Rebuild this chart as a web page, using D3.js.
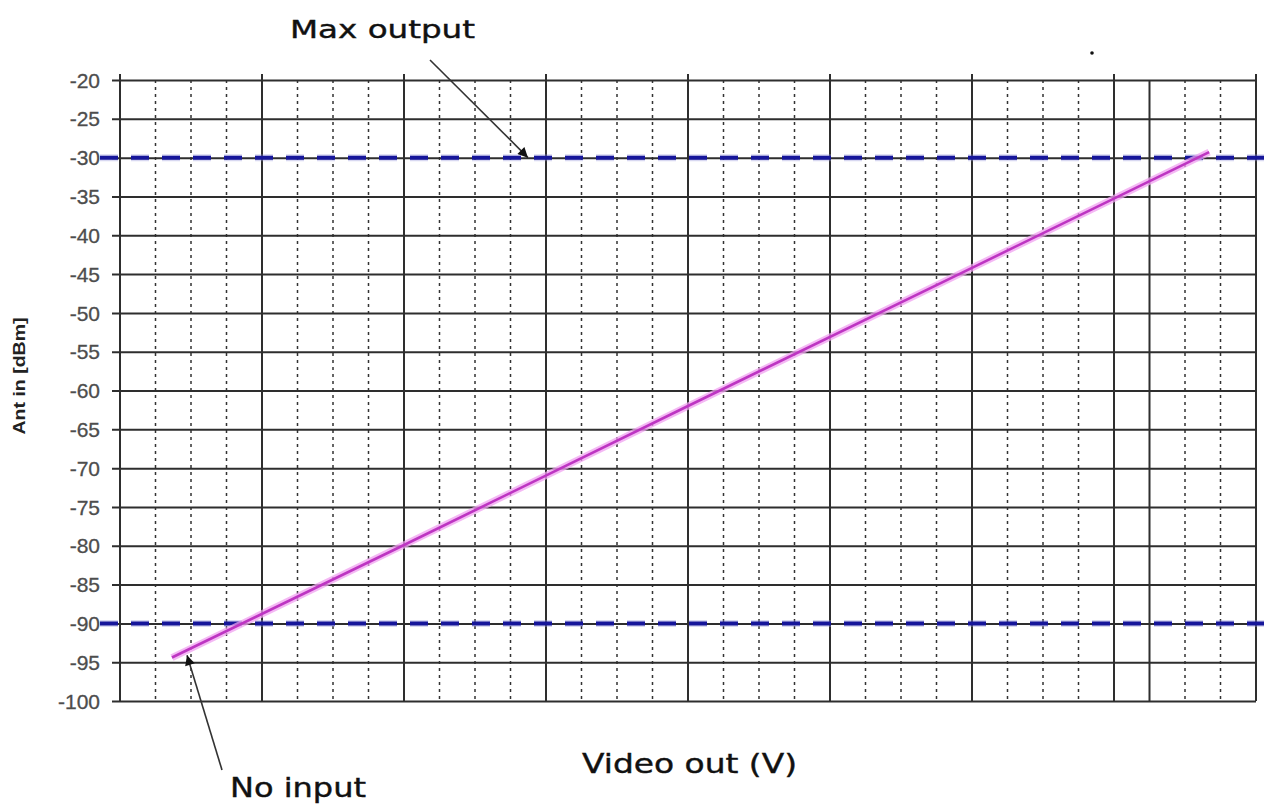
<!DOCTYPE html>
<html>
<head>
<meta charset="utf-8">
<script src="https://cdn.jsdelivr.net/npm/d3@7"></script>
<style>
html,body{margin:0;padding:0;background:#fff;}
svg{display:block;}
</style>
</head>
<body>
<svg id="chart" width="1264" height="804"></svg>
<script>
// ---- data ----
const yTicks = [-20,-25,-30,-35,-40,-45,-50,-55,-60,-65,-70,-75,-80,-85,-90,-95,-100];
const xMajor = [0,1,2,3,4,5,6,7,8];
const xMinor = [0.25,0.5,0.75,1.25,1.5,1.75,2.25,2.5,2.75,3.25,3.5,3.75,4.25,4.5,4.75,5.25,5.5,5.75,6.25,6.5,6.75,7.5,7.75];
const xExtraSolid = [7.25];
const lineX = [0.366, 2.0, 4.0, 6.0, 7.67];
const lineY = [-94.4, -79.9, -62.0, -44.2, -29.3];
const refLevels = [-30, -90];
const annLabels = ["Max output", "No input"];
const annTipX = [2.873, 0.472];
const annTipY = [-30, -94.1];
const xTitle = "Video out (V)";
const yTitle = "Ant in [dBm]";

// ---- layout ----
const W = 1264, H = 804;
const svg = d3.select("#chart");
const x = d3.scaleLinear().domain([0, 8]).range([120, 1256]);
const y = d3.scaleLinear().domain([-100, -20]).range([701, 80]);
const [x0, x1] = x.range();
const [yb, yt] = y.range();

const g = svg.append("g");

// minor dotted verticals
g.selectAll("line.minor").data(xMinor).join("line")
  .attr("x1", d => x(d)).attr("x2", d => x(d))
  .attr("y1", yt).attr("y2", yb)
  .attr("stroke", "#333").attr("stroke-width", 1.5)
  .attr("stroke-dasharray", "3,4");

// major verticals
g.selectAll("line.major").data(xMajor.concat(xExtraSolid)).join("line")
  .attr("x1", d => x(d)).attr("x2", d => x(d))
  .attr("y1", d => xMajor.includes(d) ? yt - 6 : yt).attr("y2", yb)
  .attr("stroke", "#2e2e2e").attr("stroke-width", 2);

// horizontal grid + y axis
const yAxis = d3.axisLeft(y).tickValues(yTicks).tickSize(x1 - x0 + 8).tickPadding(12).tickFormat(d => String(d));
const ya = svg.append("g").attr("transform", `translate(${x1},0)`).call(yAxis);
ya.select(".domain").remove();
ya.selectAll(".tick line").attr("stroke", "#2e2e2e").attr("stroke-width", 2);
ya.selectAll(".tick text")
  .attr("font-family", "Liberation Sans, Arial, sans-serif")
  .attr("font-size", 21).attr("fill", "#4d4d4d")
  .attr("stroke", "#4d4d4d").attr("stroke-width", 0.3)
  .attr("dy", "0.34em");

// reference dashed lines
refLevels.forEach(v => {
  svg.append("line")
    .attr("x1", x0 - 20).attr("x2", W)
    .attr("y1", y(v)).attr("y2", y(v))
    .attr("stroke", "#8f90d8").attr("stroke-width", 7).attr("stroke-opacity", 0.35)
    .attr("stroke-dasharray", "18,13");
  svg.append("line")
    .attr("x1", x0 - 20).attr("x2", W)
    .attr("y1", y(v)).attr("y2", y(v))
    .attr("stroke", "#16169a").attr("stroke-width", 4)
    .attr("stroke-dasharray", "18,13");
});

// data line
const pts = lineX.map((d, i) => [d, lineY[i]]);
const lineGen = d3.line().x(d => x(d[0])).y(d => y(d[1]));
svg.append("path").datum(pts).attr("d", lineGen)
  .attr("fill", "none").attr("stroke", "#f0a0f0").attr("stroke-width", 7).attr("stroke-opacity", 0.75);
svg.append("path").datum(pts).attr("d", lineGen)
  .attr("fill", "none").attr("stroke", "#bd35c2").attr("stroke-width", 2.6);

// arrows
const defs = svg.append("defs");
defs.append("marker").attr("id", "arr").attr("viewBox", "0 0 10 10")
  .attr("refX", 10).attr("refY", 5).attr("markerWidth", 14).attr("markerHeight", 10)
  .attr("markerUnits", "userSpaceOnUse").attr("orient", "auto")
  .append("path").attr("d", "M0,0 L10,5 L0,10 z").attr("fill", "#111");

const annStart = [[430, 60], [222, 770]];
annLabels.forEach((lab, i) => {
  svg.append("line")
    .attr("x1", annStart[i][0]).attr("y1", annStart[i][1])
    .attr("x2", x(annTipX[i])).attr("y2", y(annTipY[i]))
    .attr("stroke", "#333").attr("stroke-width", 1.6)
    .attr("marker-end", "url(#arr)");
});

// annotation texts
svg.append("text").text(annLabels[0])
  .attr("x", 290).attr("y", 38)
  .attr("font-family", "DejaVu Sans, Verdana, sans-serif").attr("font-size", 24)
  .attr("textLength", 185).attr("lengthAdjust", "spacingAndGlyphs")
  .attr("fill", "#111").attr("stroke", "#111").attr("stroke-width", 0.4);
svg.append("text").text(annLabels[1])
  .attr("x", 230).attr("y", 797)
  .attr("font-family", "DejaVu Sans, Verdana, sans-serif").attr("font-size", 26)
  .attr("textLength", 136).attr("lengthAdjust", "spacingAndGlyphs")
  .attr("fill", "#111").attr("stroke", "#111").attr("stroke-width", 0.4);

// axis titles
svg.append("text").text(xTitle)
  .attr("x", 582).attr("y", 773)
  .attr("font-family", "DejaVu Sans, Verdana, sans-serif").attr("font-size", 27)
  .attr("textLength", 215).attr("lengthAdjust", "spacingAndGlyphs")
  .attr("fill", "#111").attr("stroke", "#111").attr("stroke-width", 0.4);
svg.append("text").text(yTitle)
  .attr("transform", "translate(25,376) rotate(-90)")
  .attr("text-anchor", "middle")
  .attr("font-family", "Liberation Sans, Arial, sans-serif").attr("font-size", 16).attr("font-weight", "bold")
  .attr("textLength", 117).attr("lengthAdjust", "spacingAndGlyphs")
  .attr("fill", "#222");

// small stray dot top-right
svg.append("circle").attr("cx", 1092).attr("cy", 53).attr("r", 1.8).attr("fill", "#111");
</script>
</body>
</html>
